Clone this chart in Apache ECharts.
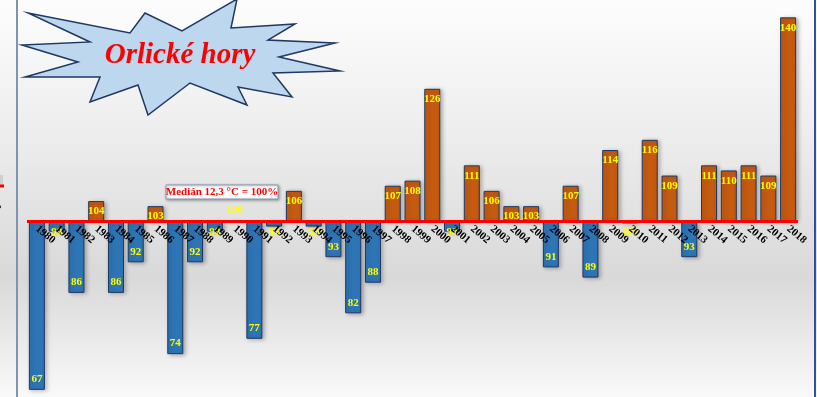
<!DOCTYPE html>
<html>
<head>
<meta charset="utf-8">
<script src="https://cdn.jsdelivr.net/npm/echarts@6/dist/echarts.min.js"></script>
<style>
  html, body { margin: 0; padding: 0; }
  #chart { width: 817px; height: 397px; }
</style>
</head>
<body>
<div id="chart"></div>
<script>
// Annual temperature as % of the 1980–2018 median (12,3 °C = 100 %)
const years = ['1980','1981','1982','1983','1984','1985','1986','1987','1988','1989',
  '1990','1991','1992','1993','1994','1995','1996','1997','1998','1999',
  '2000','2001','2002','2003','2004','2005','2006','2007','2008','2009',
  '2010','2011','2012','2013','2014','2015','2016','2017','2018'];
const percentOfMedian = [67,98,86,104,86,92,103,74,92,98,
  100,77,99,106,99,93,82,88,107,108,
  126,98,111,106,103,103,91,107,89,114,
  99.6,116,109,93,111,110,111,109,140];
const baseline = 100;
const titleText = 'Orlické hory';
const medianText = 'Medián 12,3 °C = 100%';

const warmColor = '#C55A11';
const coolColor = '#2E75B6';
const edgeColor = '#1F3864';

// value range of the deviation axis and the panel height
const devMin = -34.4;
const devMax = 43.4;
const panelHeight = 397;
// distance of the 100 % line above the panel bottom, used to lift the year labels onto it
const zeroLift = panelHeight * (0 - devMin) / (devMax - devMin);

// bars grow from the 100 % line: plot the deviation, label with the value itself
const barData = percentOfMedian.map(function (v) {
  const d = v - baseline;
  let pos;
  if (d > 0) pos = 'insideTop';
  else if (d === 0) pos = 'top';
  else if (d > -3) pos = 'insideTop';
  else pos = 'insideBottom';
  return {
    value: d,
    itemStyle: { color: d >= 0 ? warmColor : coolColor },
    label: { position: pos }
  };
});

const starPoints = [
  [28,13],[130,33],[145,13],[182,31],[237,-1],[231,28],[295,24],[268,40],
  [335,43],[279,57],[340,71],[273,73],[292,97],[238,87],[247,105],[190,83],
  [148,115],[138,85],[90,102],[100,77],[25,77],[78,62],[22,45],[90,42]
];

const chart = echarts.init(document.getElementById('chart'), null, { renderer: 'canvas' });
chart.setOption({
  animation: false,
  backgroundColor: {
    type: 'linear', x: 0, y: 0, x2: 0, y2: 1,
    colorStops: [
      { offset: 0, color: '#fdfdfd' },
      { offset: 0.3, color: '#efefef' },
      { offset: 0.7, color: '#d9d9d9' },
      { offset: 1, color: '#f9f9f9' }
    ]
  },
  grid: { left: 27, right: 19, top: 0, bottom: 0, containLabel: false, outerBoundsMode: 'none' },
  xAxis: {
    type: 'category',
    data: years,
    offset: -zeroLift,
    z: 6,
    axisLine: { show: false },
    axisTick: { show: false },
    axisLabel: {
      interval: 0,
      rotate: -40,
      margin: 6,
      color: '#000000',
      fontFamily: 'Liberation Serif',
      fontWeight: 'bold',
      fontSize: 11
    },
    splitLine: { show: false }
  },
  yAxis: {
    type: 'value',
    min: devMin,
    max: devMax,
    show: false
  },
  series: [{
    type: 'bar',
    data: barData,
    barWidth: 16,
    itemStyle: {
      borderColor: edgeColor, borderWidth: 1,
      shadowColor: 'rgba(0,0,0,0.28)', shadowBlur: 4, shadowOffsetX: 2, shadowOffsetY: 1
    },
    label: {
      show: true,
      distance: 5,
      color: '#FFFF00',
      fontFamily: 'Liberation Serif',
      fontWeight: 'bold',
      fontSize: 11,
      formatter: function (p) { return String(Math.round(p.value + baseline)); }
    },
    markLine: {
      silent: true,
      symbol: 'none',
      label: { show: false },
      lineStyle: { color: '#FF0000', width: 3, type: 'solid' },
      data: [{ yAxis: 0 }],
      z: 5
    }
  }],
  graphic: [
    // frame lines of the panel
    { type: 'line', shape: { x1: 17, y1: 0, x2: 17, y2: 397 }, style: { stroke: '#8093B3', lineWidth: 2 }, z: 10 },
    { type: 'line', shape: { x1: 815, y1: 0, x2: 815, y2: 397 }, style: { stroke: '#2F52A0', lineWidth: 2 }, z: 10 },
    // edge of the neighbouring panel
    { type: 'rect', shape: { x: 0, y: 175, width: 3, height: 10 }, style: { fill: '#cfcfcf' }, z: 10 },
    { type: 'line', shape: { x1: 0, y1: 186, x2: 4, y2: 186 }, style: { stroke: '#FF0000', lineWidth: 3 }, z: 10 },
    { type: 'text', x: -14, y: 192, rotation: -40 * Math.PI / 180,
      style: { text: '2018', fill: '#000', font: 'bold 11px "Liberation Serif"', textAlign: 'left', textVerticalAlign: 'top' }, z: 10 },
    // title burst
    { type: 'polygon', shape: { points: starPoints },
      style: { fill: '#BDD7EE', stroke: '#1F3864', lineWidth: 1.5 }, z: 20 },
    { type: 'text', x: 180, y: 56,
      style: { text: titleText, fill: '#FF0000', font: 'italic bold 29px "Liberation Serif"', textAlign: 'center', textVerticalAlign: 'middle' }, z: 21 },
    // median note
    { type: 'rect', shape: { x: 166, y: 185, width: 112, height: 14 },
      style: { fill: '#ffffff', stroke: '#8497B0', lineWidth: 1, shadowColor: 'rgba(0,0,0,0.35)', shadowBlur: 3, shadowOffsetX: 1, shadowOffsetY: 1 }, z: 20 },
    { type: 'text', x: 222, y: 192.5,
      style: { text: medianText, fill: '#FF0000', font: 'bold 11px "Liberation Serif"', textAlign: 'center', textVerticalAlign: 'middle' }, z: 21 }
  ]
});
</script>
</body>
</html>
